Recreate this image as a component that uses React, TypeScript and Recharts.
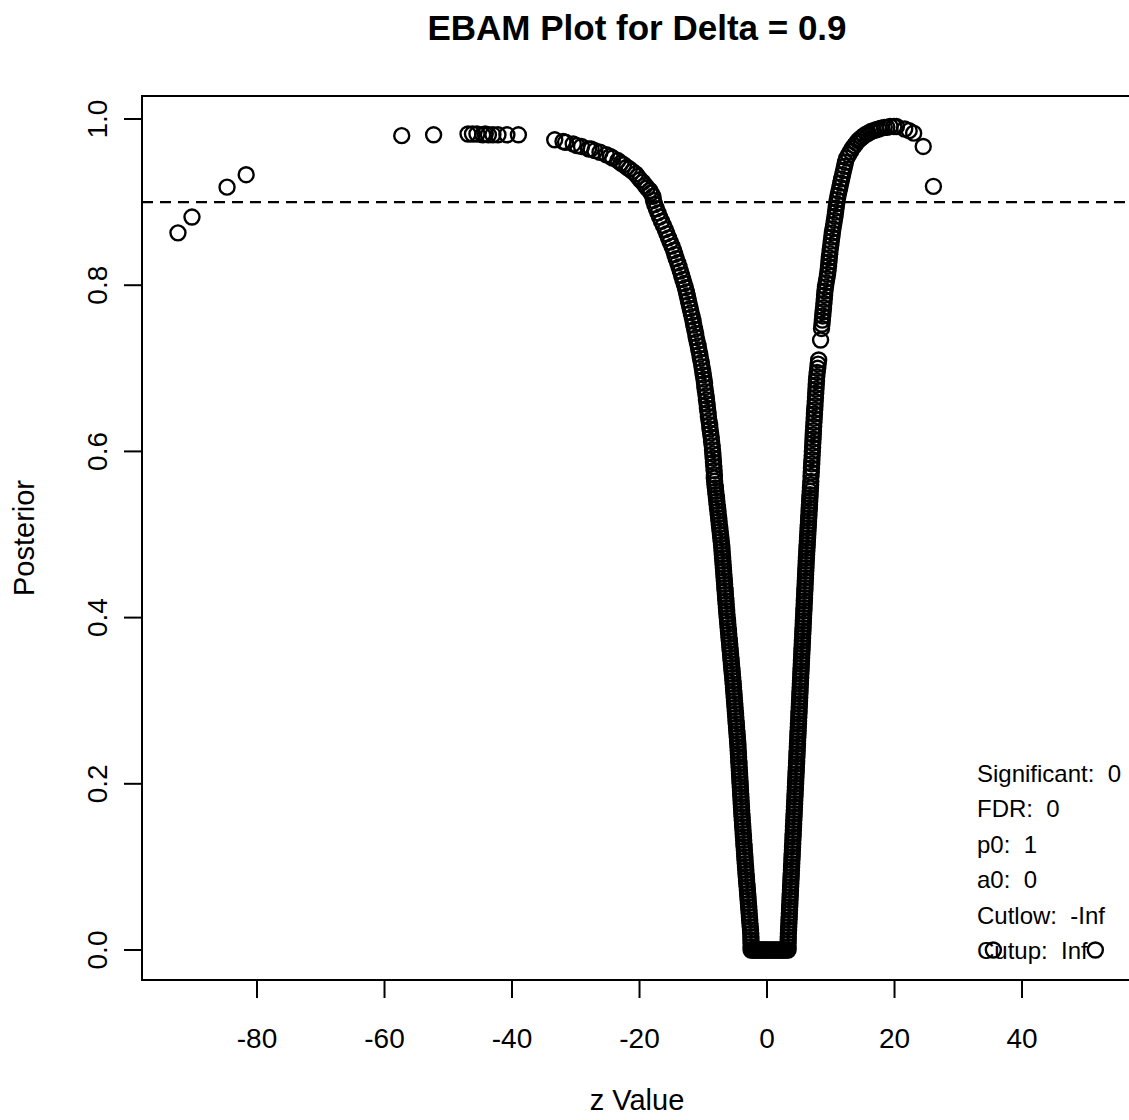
import React from 'react';
import { ScatterChart, Scatter, XAxis, YAxis, ReferenceLine, ReferenceArea } from 'recharts';

// [z value, posterior]
const leftTail: [number, number][] = [
  [-92.4, 0.863], [-90.2, 0.882], [-84.7, 0.918], [-81.7, 0.933],
  [-57.3, 0.980], [-52.3, 0.981], [-46.9, 0.982], [-46.2, 0.982], [-45.5, 0.982],
  [-44.6, 0.981], [-44.2, 0.982], [-43.7, 0.981], [-43.0, 0.981], [-42.2, 0.981],
  [-40.8, 0.981], [-39.0, 0.981],
];

const leftShoulder: [number, number][] = [
  [-33.3, 0.975], [-32.0, 0.973], [-31.6, 0.972], [-30.4, 0.970], [-29.8, 0.968],
  [-29.1, 0.967], [-28.0, 0.964], [-27.6, 0.964], [-27.0, 0.962], [-26.2, 0.960],
  [-25.2, 0.957], [-24.6, 0.955], [-24.2, 0.953], [-23.4, 0.950], [-22.9, 0.947],
  [-22.5, 0.945], [-22.0, 0.942], [-21.6, 0.940], [-21.1, 0.937], [-20.6, 0.934],
  [-20.3, 0.931], [-19.9, 0.927], [-19.5, 0.924], [-19.1, 0.920], [-18.8, 0.917],
  [-18.4, 0.914], [-18.2, 0.911], [-17.9, 0.907],
];

const leftBranch: [number, number][] = [
  [-17.8, 0.902], [-17.6, 0.897], [-17.35, 0.892], [-17.1, 0.887], [-16.85, 0.882],
  [-16.55, 0.877], [-16.25, 0.872], [-15.95, 0.867], [-15.7, 0.862], [-15.45, 0.857],
  [-15.2, 0.852], [-14.9, 0.847], [-14.65, 0.842], [-14.45, 0.837], [-14.25, 0.832],
  [-14.0, 0.827], [-13.8, 0.822], [-13.6, 0.817], [-13.4, 0.812], [-13.2, 0.807],
  [-13.0, 0.802], [-12.8, 0.797], [-12.65, 0.792], [-12.5, 0.787], [-12.35, 0.782],
  [-12.2, 0.777], [-12.05, 0.772], [-11.9, 0.767], [-11.75, 0.762], [-11.6, 0.757],
  [-11.5, 0.752], [-11.35, 0.747], [-11.2, 0.742], [-11.1, 0.737], [-10.95, 0.732],
  [-10.8, 0.727], [-10.7, 0.722], [-10.55, 0.717], [-10.45, 0.712], [-10.3, 0.707],
  [-10.2, 0.702], [-10.1, 0.697], [-10.0, 0.692], [-9.9, 0.687], [-9.8, 0.682],
  [-9.75, 0.677], [-9.65, 0.672], [-9.55, 0.667], [-9.5, 0.662], [-9.4, 0.657],
  [-9.35, 0.652], [-9.25, 0.647], [-9.2, 0.642], [-9.1, 0.637], [-9.0, 0.632],
  [-8.95, 0.627], [-8.85, 0.622], [-8.75, 0.617], [-8.7, 0.612], [-8.6, 0.607],
  [-8.55, 0.602], [-8.5, 0.597], [-8.45, 0.592], [-8.4, 0.587], [-8.35, 0.582],
  [-8.3, 0.577], [-8.25, 0.572],
  [-8.27, 0.568], [-8.22, 0.564], [-8.16, 0.560], [-8.10, 0.556], [-8.05, 0.552],
  [-7.99, 0.548], [-7.93, 0.544], [-7.88, 0.540], [-7.82, 0.536], [-7.76, 0.532],
  [-7.70, 0.528], [-7.65, 0.524], [-7.59, 0.520], [-7.53, 0.516], [-7.48, 0.512],
  [-7.42, 0.508], [-7.36, 0.504], [-7.30, 0.500], [-7.25, 0.496], [-7.19, 0.492],
  [-7.13, 0.488], [-7.08, 0.484], [-7.05, 0.480], [-7.01, 0.476], [-6.97, 0.472],
  [-6.93, 0.468], [-6.89, 0.464], [-6.85, 0.460], [-6.81, 0.456], [-6.77, 0.452],
  [-6.73, 0.448], [-6.69, 0.444], [-6.65, 0.440], [-6.61, 0.436], [-6.57, 0.432],
  [-6.53, 0.428], [-6.49, 0.424], [-6.45, 0.420], [-6.41, 0.416], [-6.37, 0.412],
  [-6.33, 0.408], [-6.29, 0.404], [-6.24, 0.400], [-6.19, 0.396], [-6.15, 0.392],
  [-6.10, 0.388], [-6.05, 0.384], [-6.01, 0.380], [-5.96, 0.376], [-5.91, 0.372],
  [-5.86, 0.368], [-5.82, 0.364], [-5.77, 0.360], [-5.72, 0.356], [-5.67, 0.352],
  [-5.63, 0.348], [-5.58, 0.344], [-5.53, 0.340], [-5.49, 0.336], [-5.44, 0.332],
  [-5.39, 0.328], [-5.34, 0.324], [-5.30, 0.320], [-5.26, 0.316], [-5.22, 0.312],
  [-5.18, 0.308], [-5.14, 0.304], [-5.10, 0.300], [-5.06, 0.296], [-5.02, 0.292],
  [-4.98, 0.288], [-4.94, 0.284], [-4.90, 0.280], [-4.86, 0.276], [-4.82, 0.272],
  [-4.78, 0.268], [-4.74, 0.264], [-4.70, 0.260], [-4.66, 0.256], [-4.62, 0.252],
  [-4.58, 0.248], [-4.55, 0.244], [-4.52, 0.240], [-4.49, 0.236], [-4.46, 0.232],
  [-4.43, 0.228], [-4.40, 0.224], [-4.37, 0.220], [-4.34, 0.216], [-4.31, 0.212],
  [-4.28, 0.208], [-4.25, 0.204], [-4.22, 0.200], [-4.19, 0.196], [-4.16, 0.192],
  [-4.13, 0.188], [-4.10, 0.184], [-4.07, 0.180], [-4.04, 0.176], [-4.01, 0.172],
  [-3.98, 0.168], [-3.95, 0.164], [-3.91, 0.160], [-3.88, 0.156], [-3.84, 0.152],
  [-3.81, 0.148], [-3.77, 0.144], [-3.73, 0.140], [-3.70, 0.136], [-3.66, 0.132],
  [-3.63, 0.128], [-3.59, 0.124], [-3.55, 0.120], [-3.52, 0.116], [-3.48, 0.112],
  [-3.45, 0.108], [-3.41, 0.104], [-3.37, 0.100], [-3.33, 0.096], [-3.29, 0.092],
  [-3.25, 0.088], [-3.21, 0.084], [-3.17, 0.080], [-3.12, 0.076], [-3.08, 0.072],
  [-3.04, 0.068], [-3.00, 0.064], [-2.96, 0.060], [-2.92, 0.056], [-2.88, 0.052],
  [-2.84, 0.048], [-2.80, 0.044], [-2.76, 0.040], [-2.72, 0.036], [-2.68, 0.032],
  [-2.63, 0.028], [-2.59, 0.024], [-2.55, 0.020], [-2.53, 0.016], [-2.52, 0.012],
  [-2.51, 0.008], [-2.50, 0.004],
];

const bottom: [number, number][] = [
  [-2.5, 0], [-2.25, 0], [-2.0, 0], [-1.75, 0], [-1.5, 0], [-1.25, 0], [-1.0, 0],
  [-0.75, 0], [-0.5, 0], [-0.25, 0], [0, 0], [0.25, 0], [0.5, 0], [0.75, 0],
  [1.0, 0], [1.25, 0], [1.5, 0], [1.75, 0], [2.0, 0], [2.25, 0], [2.5, 0],
  [2.75, 0], [3.0, 0], [3.3, 0],
];

const rightBranch: [number, number][] = [
  [3.30, 0.004], [3.31, 0.008], [3.32, 0.012], [3.33, 0.016], [3.35, 0.020],
  [3.38, 0.024], [3.40, 0.028], [3.43, 0.032], [3.45, 0.036], [3.48, 0.040],
  [3.50, 0.044], [3.53, 0.048], [3.55, 0.052], [3.58, 0.056], [3.60, 0.060],
  [3.63, 0.064], [3.65, 0.068], [3.68, 0.072], [3.70, 0.076], [3.73, 0.080],
  [3.75, 0.084], [3.78, 0.088], [3.80, 0.092], [3.83, 0.096], [3.85, 0.100],
  [3.88, 0.104], [3.90, 0.108], [3.93, 0.112], [3.95, 0.116], [3.98, 0.120],
  [4.00, 0.124], [4.03, 0.128], [4.05, 0.132], [4.08, 0.136], [4.10, 0.140],
  [4.13, 0.144], [4.15, 0.148], [4.18, 0.152], [4.20, 0.156], [4.23, 0.160],
  [4.25, 0.164], [4.28, 0.168], [4.30, 0.172], [4.33, 0.176], [4.35, 0.180],
  [4.38, 0.184], [4.40, 0.188], [4.43, 0.192], [4.45, 0.196], [4.48, 0.200],
  [4.50, 0.204], [4.53, 0.208], [4.55, 0.212], [4.58, 0.216], [4.60, 0.220],
  [4.63, 0.224], [4.65, 0.228], [4.68, 0.232], [4.70, 0.236], [4.73, 0.240],
  [4.75, 0.244], [4.78, 0.248], [4.80, 0.252], [4.83, 0.256], [4.85, 0.260],
  [4.88, 0.264], [4.90, 0.268], [4.93, 0.272], [4.95, 0.276], [4.98, 0.280],
  [5.00, 0.284], [5.03, 0.288], [5.05, 0.292], [5.08, 0.296], [5.10, 0.300],
  [5.13, 0.304], [5.15, 0.308], [5.18, 0.312], [5.20, 0.316], [5.23, 0.320],
  [5.25, 0.324], [5.28, 0.328], [5.30, 0.332], [5.33, 0.336], [5.35, 0.340],
  [5.38, 0.344], [5.40, 0.348], [5.43, 0.352], [5.45, 0.356], [5.48, 0.360],
  [5.50, 0.364], [5.53, 0.368], [5.55, 0.372], [5.58, 0.376], [5.60, 0.380],
  [5.63, 0.384], [5.65, 0.388], [5.68, 0.392], [5.70, 0.396], [5.73, 0.400],
  [5.75, 0.404], [5.78, 0.408], [5.80, 0.412], [5.83, 0.416], [5.85, 0.420],
  [5.88, 0.424], [5.90, 0.428], [5.93, 0.432], [5.95, 0.436], [5.98, 0.440],
  [6.00, 0.444], [6.03, 0.448], [6.05, 0.452], [6.08, 0.456], [6.10, 0.460],
  [6.13, 0.464], [6.15, 0.468], [6.18, 0.472], [6.21, 0.476], [6.24, 0.480],
  [6.27, 0.484], [6.30, 0.488], [6.33, 0.492], [6.36, 0.496], [6.39, 0.500],
  [6.42, 0.504], [6.45, 0.508], [6.48, 0.512], [6.51, 0.516], [6.54, 0.520],
  [6.57, 0.524], [6.60, 0.528], [6.63, 0.532], [6.66, 0.536], [6.69, 0.540],
  [6.72, 0.544], [6.75, 0.548], [6.78, 0.552], [6.81, 0.556], [6.84, 0.560],
  [6.87, 0.564],
  [6.90, 0.570], [6.94, 0.575], [6.97, 0.580], [7.01, 0.585], [7.04, 0.590],
  [7.08, 0.595], [7.11, 0.600], [7.15, 0.605], [7.18, 0.610], [7.22, 0.615],
  [7.25, 0.620], [7.28, 0.625], [7.32, 0.630], [7.36, 0.635], [7.40, 0.640],
  [7.44, 0.645], [7.48, 0.650], [7.52, 0.655], [7.56, 0.660], [7.60, 0.665],
  [7.64, 0.670], [7.68, 0.675], [7.72, 0.680], [7.76, 0.685], [7.80, 0.690],
  [7.87, 0.695], [7.95, 0.700], [8.02, 0.705], [8.10, 0.710],
  [8.40, 0.734],
  [8.55, 0.748], [8.62, 0.753], [8.68, 0.758], [8.74, 0.763], [8.80, 0.768],
  [8.86, 0.773], [8.92, 0.778], [8.98, 0.783], [9.03, 0.788], [9.09, 0.793],
  [9.17, 0.798], [9.27, 0.803], [9.38, 0.808], [9.49, 0.813], [9.58, 0.818],
  [9.65, 0.823], [9.71, 0.828], [9.77, 0.833], [9.84, 0.838], [9.91, 0.843],
  [10.0, 0.848], [10.08, 0.853], [10.17, 0.858], [10.25, 0.863], [10.34, 0.868],
  [10.45, 0.873], [10.56, 0.878], [10.67, 0.883], [10.75, 0.888], [10.84, 0.893],
  [10.92, 0.898], [11.01, 0.903], [11.14, 0.908], [11.28, 0.913], [11.43, 0.918],
  [11.57, 0.923], [11.71, 0.928], [11.85, 0.933], [12.0, 0.938], [12.15, 0.943],
  [12.3, 0.948], [12.5, 0.953],
];

const rightShoulder: [number, number][] = [
  [12.8, 0.957], [13.1, 0.961], [13.4, 0.965], [13.7, 0.968], [14.0, 0.971],
  [14.3, 0.974], [14.6, 0.976], [14.9, 0.978], [15.2, 0.980], [15.6, 0.982],
  [15.9, 0.983], [16.3, 0.985], [16.7, 0.986], [17.1, 0.987], [17.5, 0.988],
  [17.9, 0.989], [18.4, 0.990], [18.8, 0.990], [19.3, 0.991], [19.9, 0.991],
  [20.3, 0.991],
];

const rightTail: [number, number][] = [
  [21.6, 0.988], [22.3, 0.986], [23.0, 0.983], [24.5, 0.967], [26.1, 0.919],
  [35.5, 0], [51.5, 0],
];

const xTicks = [-80, -60, -40, -20, 0, 20, 40];
const yTicks = [0, 0.2, 0.4, 0.6, 0.8, 1.0];
const delta = 0.9;
const stats = ['Significant:  0', 'FDR:  0', 'p0:  1', 'a0:  0', 'Cutlow:  -Inf', 'Cutup:  Inf'];

const points = [...leftTail, ...leftShoulder, ...leftBranch, ...bottom, ...rightBranch, ...rightShoulder, ...rightTail]
  .map(([z, p]) => ({ z, p }));

const FONT = '"Liberation Sans", Arial, Helvetica, sans-serif';
const X_DOMAIN: [number, number] = [-98.04, 57.25];
const Y_DOMAIN: [number, number] = [-0.0361, 1.0277];

const Ring = (props: any) => (
  <circle cx={props.cx} cy={props.cy} r={7.5} fill="none" stroke="#000" strokeWidth={2.4} />
);

const XTick = ({ x, y, payload }: any) => (
  <text x={x} y={y + 50} textAnchor="middle" fontSize={28} fontFamily={FONT} fill="#000">
    {String(payload.value)}
  </text>
);

const YTick = ({ x, y, payload }: any) => (
  <text transform={`translate(${x - 17}, ${y}) rotate(-90)`} textAnchor="middle" fontSize={28} fontFamily={FONT} fill="#000">
    {Number(payload.value).toFixed(1)}
  </text>
);

export default function App() {
  return (
    <div style={{ position: 'absolute', left: 0, top: 0, width: 1129, height: 1120, overflow: 'hidden', background: '#fff' }}>
      <ScatterChart width={1140} height={1120} margin={{ top: 96, right: 8, bottom: 0, left: 0 }}>
        <XAxis
          type="number"
          dataKey="z"
          domain={X_DOMAIN}
          allowDataOverflow
          ticks={xTicks}
          height={140}
          tickSize={18}
          tickMargin={0}
          tick={<XTick />}
          tickLine={{ stroke: '#000', strokeWidth: 2 }}
          axisLine={{ stroke: '#000', strokeWidth: 2 }}
        />
        <YAxis
          type="number"
          dataKey="p"
          domain={Y_DOMAIN}
          allowDataOverflow
          ticks={yTicks}
          width={142}
          tickSize={18}
          tickMargin={0}
          tick={<YTick />}
          tickLine={{ stroke: '#000', strokeWidth: 2 }}
          axisLine={{ stroke: '#000', strokeWidth: 2 }}
        />
        <ReferenceArea
          x1={X_DOMAIN[0]}
          x2={X_DOMAIN[1]}
          y1={Y_DOMAIN[0]}
          y2={Y_DOMAIN[1]}
          fill="none"
          fillOpacity={0}
          stroke="#000"
          strokeWidth={2}
          strokeOpacity={1}
        />
        <Scatter data={points} shape={<Ring />} isAnimationActive={false} />
        <ReferenceLine y={delta} stroke="#000" strokeWidth={2.2} strokeDasharray="11 7" />
      </ScatterChart>
      <svg width={1129} height={1120} style={{ position: 'absolute', left: 0, top: 0, pointerEvents: 'none' }}>
        <text x={637} y={40} textAnchor="middle" fontSize={35} fontWeight="bold" fontFamily={FONT} fill="#000">
          {`EBAM Plot for Delta = ${delta}`}
        </text>
        <text x={637} y={1110} textAnchor="middle" fontSize={29} fontFamily={FONT} fill="#000">z Value</text>
        <text transform="translate(34, 538) rotate(-90)" textAnchor="middle" fontSize={29} fontFamily={FONT} fill="#000">
          Posterior
        </text>
        {stats.map((s, i) => (
          <text key={s} x={977} y={782 + i * 35.4} fontSize={24} fontFamily={FONT} fill="#000" style={{ whiteSpace: 'pre' }}>
            {s}
          </text>
        ))}
      </svg>
    </div>
  );
}
